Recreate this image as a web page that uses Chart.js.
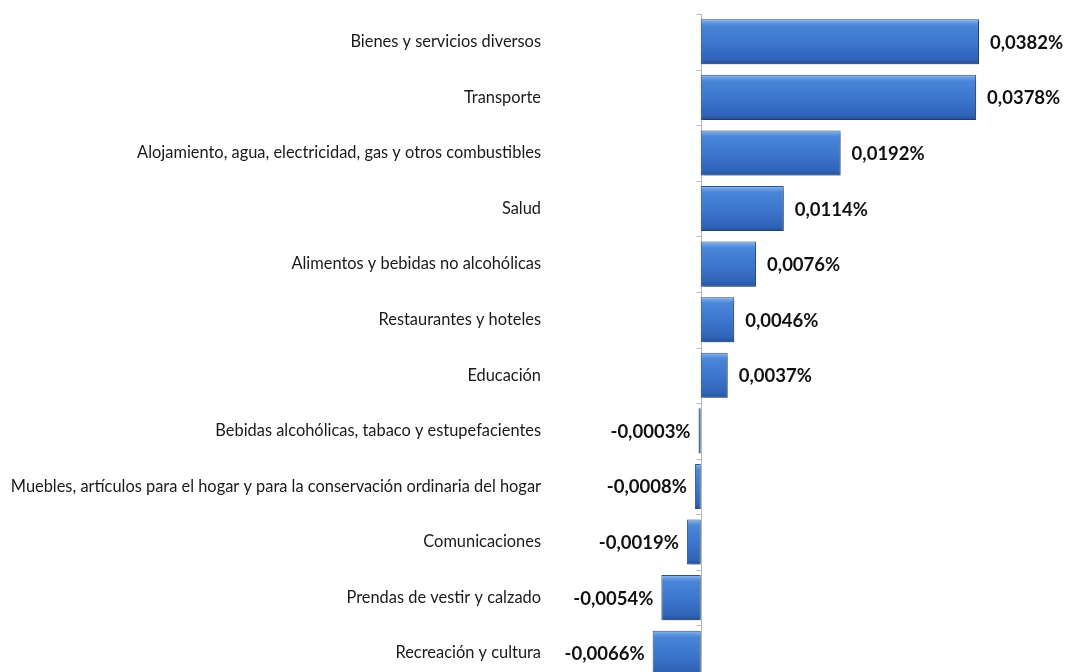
<!DOCTYPE html>
<html>
<head>
<meta charset="utf-8">
<script src="https://cdn.jsdelivr.net/npm/chart.js@4/dist/chart.umd.min.js"></script>
<style>
  html, body { margin: 0; padding: 0; background: #ffffff; overflow: hidden; }
  #wrap { position: relative; width: 1066px; height: 690px; }
</style>
</head>
<body>
<div id="wrap"><canvas id="c" width="1066" height="690"></canvas></div>
<script>
// Contribución a la variación por división de gasto
const categories = [
  'Bienes y servicios diversos',
  'Transporte',
  'Alojamiento, agua, electricidad, gas y otros combustibles',
  'Salud',
  'Alimentos y bebidas no alcohólicas',
  'Restaurantes y hoteles',
  'Educación',
  'Bebidas alcohólicas, tabaco y estupefacientes',
  'Muebles, artículos para el hogar y para la conservación ordinaria del hogar',
  'Comunicaciones',
  'Prendas de vestir y calzado',
  'Recreación y cultura'
];
const values = [0.0382, 0.0378, 0.0192, 0.0114, 0.0076, 0.0046, 0.0037, -0.0003, -0.0008, -0.0019, -0.0054, -0.0066];
const valueLabels = values.map(v => v.toFixed(4).replace('.', ',') + '%');

const BAR_PCT = 0.81;

function barGradient(c) {
  const chart = c.chart;
  const ys = chart.scales.y;
  if (!ys || !chart.chartArea || c.dataIndex === undefined) return '#3c78d0';
  const step = ys.height / categories.length;
  const h = step * BAR_PCT;
  const yc = ys.getPixelForValue(c.dataIndex);
  const g = chart.ctx.createLinearGradient(0, yc - h / 2, 0, yc + h / 2);
  g.addColorStop(0, '#9cc2f0');
  g.addColorStop(0.06, '#6b9fe3');
  g.addColorStop(0.14, '#4a85d8');
  g.addColorStop(0.55, '#3b75cc');
  g.addColorStop(0.9, '#2f63b6');
  g.addColorStop(1, '#234f96');
  return g;
}

const decor = {
  id: 'decor',
  beforeDatasetsDraw(chart) {
    const ctx = chart.ctx;
    const xs = chart.scales.x, ys = chart.scales.y;
    const area = chart.chartArea;
    const x0 = Math.round(xs.getPixelForValue(0)) + 0.5;
    ctx.save();
    ctx.strokeStyle = '#b8b8b8';
    ctx.lineWidth = 1;
    ctx.beginPath();
    ctx.moveTo(x0, area.top);
    ctx.lineTo(x0, area.bottom);
    const step = ys.height / categories.length;
    for (let i = 0; i <= categories.length; i++) {
      const y = Math.round(area.top + i * step) + 0.5;
      ctx.moveTo(x0 - 5, y);
      ctx.lineTo(x0, y);
    }
    ctx.stroke();
    ctx.restore();
    // soft drop shadow under the bars
    ctx.save();
    ctx.shadowColor = 'rgba(0,0,0,0.35)';
    ctx.shadowBlur = 4;
    ctx.shadowOffsetX = 2;
    ctx.shadowOffsetY = 2;
  },
  afterDatasetsDraw(chart) {
    const ctx = chart.ctx;
    ctx.restore();
    const meta = chart.getDatasetMeta(0);
    ctx.save();
    ctx.font = 'bold 18.5px Lato, "Open Sans", sans-serif';
    ctx.fillStyle = '#111111';
    ctx.textBaseline = 'middle';
    meta.data.forEach((bar, i) => {
      const v = values[i];
      const y = bar.y + 1;
      if (v >= 0) {
        ctx.textAlign = 'left';
        ctx.fillText(valueLabels[i], bar.x + 11, y);
      } else {
        ctx.textAlign = 'right';
        ctx.fillText(valueLabels[i], bar.x - 8, y);
      }
    });
    ctx.restore();
  }
};

new Chart(document.getElementById('c'), {
  type: 'bar',
  data: {
    labels: categories,
    datasets: [{
      data: values,
      backgroundColor: barGradient,
      borderColor: '#2a5595',
      borderWidth: 1,
      borderSkipped: false,
      categoryPercentage: 1,
      barPercentage: BAR_PCT
    }]
  },
  options: {
    indexAxis: 'y',
    responsive: false,
    animation: false,
    devicePixelRatio: 1,
    layout: { padding: { top: 14, bottom: 9, left: 0, right: 1 } },
    plugins: { legend: { display: false }, tooltip: { enabled: false } },
    scales: {
      x: { display: false, min: -0.02, max: 0.05 },
      y: {
        grid: { display: false, drawTicks: false },
        border: { display: false },
        ticks: {
          color: '#1a1a1a',
          padding: 14,
          font: { family: 'Lato, "Open Sans", sans-serif', size: 16.4 }
        },
        afterFit(scale) {
          scale.width = 555;
          scale.paddingTop = 0;
          scale.paddingBottom = 0;
        }
      }
    }
  },
  plugins: [decor]
});
</script>
</body>
</html>
